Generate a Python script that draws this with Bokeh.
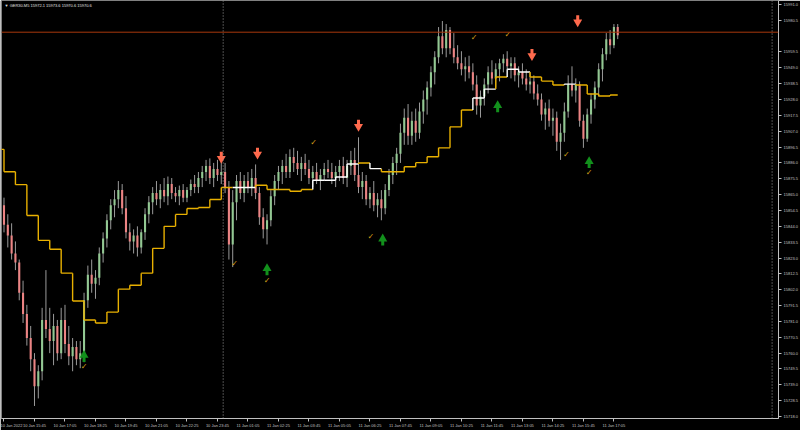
from bokeh.plotting import figure
from bokeh.models import Range1d, FixedTicker, Span, Label, PrintfTickFormatter
from bokeh.core.properties import value
from bokeh.embed import file_html
from bokeh.resources import INLINE

# ---- data (GER30, one candle per 10 minutes, x = M5 bar index from 10 Jan 14:25) ----
opens = [15858, 15845, 15838, 15826, 15820, 15800, 15786, 15770, 15756, 15738,
         15748, 15782, 15776, 15768, 15778, 15760, 15782, 15766, 15758, 15764,
         15756, 15760, 15795, 15812, 15806, 15810, 15826, 15836, 15848, 15858,
         15862, 15868, 15856, 15840, 15834, 15838, 15830, 15840, 15852, 15860,
         15866, 15862, 15868, 15864, 15872, 15866, 15864, 15868, 15863, 15868,
         15872, 15870, 15876, 15880, 15884, 15876, 15882, 15878, 15880, 15870,
         15832, 15860, 15874, 15866, 15874, 15870, 15876, 15866, 15850, 15842,
         15848, 15864, 15874, 15880, 15884, 15880, 15890, 15886, 15882, 15886,
         15882, 15876, 15880, 15874, 15878, 15882, 15880, 15876, 15880, 15884,
         15876, 15884, 15888, 15878, 15870, 15874, 15862, 15866, 15858, 15862,
         15856, 15868, 15878, 15886, 15892, 15906, 15916, 15904, 15914, 15906,
         15920, 15928, 15936, 15946, 15956, 15970, 15962, 15974, 15962, 15956,
         15952, 15948, 15950, 15946, 15938, 15924, 15930, 15938, 15946, 15942,
         15948, 15952, 15955, 15950, 15952, 15944, 15946, 15942, 15938, 15940,
         15932, 15928, 15918, 15922, 15914, 15916, 15900, 15906, 15920, 15938,
         15934, 15938, 15914, 15902, 15918, 15928, 15936, 15948, 15958, 15968,
         15964, 15976]
highs = [15863, 15852, 15846, 15834, 15822, 15808, 15792, 15778, 15760, 15752,
         15790, 15815, 15790, 15786, 15782, 15790, 15792, 15778, 15770, 15768,
         15768, 15800, 15818, 15822, 15815, 15830, 15840, 15852, 15862, 15868,
         15874, 15872, 15864, 15846, 15842, 15844, 15842, 15856, 15864, 15870,
         15874, 15872, 15876, 15877, 15876, 15870, 15871, 15872, 15870, 15875,
         15878, 15880, 15884, 15888, 15889, 15886, 15888, 15890, 15886, 15874,
         15868, 15878, 15880, 15878, 15880, 15882, 15885, 15870, 15856, 15852,
         15868, 15878, 15884, 15888, 15892, 15895, 15896, 15894, 15890, 15892,
         15888, 15884, 15886, 15882, 15886, 15888, 15886, 15884, 15888, 15890,
         15888, 15894, 15896, 15903, 15880, 15878, 15870, 15874, 15866, 15868,
         15872, 15882, 15890, 15896, 15912, 15922, 15925, 15920, 15922, 15926,
         15934, 15940, 15950, 15960, 15976, 15980, 15978, 15976, 15972, 15964,
         15960, 15956, 15957, 15952, 15944, 15934, 15942, 15950, 15954, 15952,
         15955, 15958, 15960, 15956, 15956, 15950, 15952, 15948, 15946, 15944,
         15938, 15932, 15926, 15928, 15922, 15920, 15912, 15926, 15944, 15950,
         15942, 15940, 15918, 15922, 15932, 15940, 15952, 15962, 15972, 15974,
         15978, 15978]
lows = [15840, 15830, 15822, 15815, 15795, 15780, 15765, 15748, 15725, 15730,
        15742, 15770, 15760, 15752, 15755, 15756, 15760, 15752, 15748, 15752,
        15750, 15754, 15790, 15800, 15796, 15805, 15820, 15830, 15842, 15850,
        15856, 15852, 15836, 15828, 15826, 15824, 15826, 15835, 15846, 15852,
        15858, 15856, 15860, 15858, 15862, 15860, 15858, 15860, 15860, 15864,
        15866, 15866, 15870, 15874, 15872, 15870, 15874, 15872, 15866, 15822,
        15817, 15848, 15862, 15860, 15866, 15864, 15862, 15845, 15836, 15832,
        15844, 15858, 15868, 15872, 15876, 15876, 15880, 15878, 15874, 15878,
        15872, 15870, 15872, 15868, 15874, 15876, 15872, 15870, 15874, 15872,
        15870, 15878, 15874, 15866, 15862, 15858, 15856, 15854, 15850, 15848,
        15852, 15864, 15872, 15878, 15886, 15898, 15898, 15898, 15900, 15902,
        15912, 15918, 15930, 15938, 15952, 15958, 15956, 15958, 15952, 15948,
        15944, 15940, 15942, 15934, 15918, 15916, 15924, 15932, 15938, 15936,
        15940, 15946, 15948, 15942, 15940, 15936, 15938, 15934, 15932, 15928,
        15924, 15914, 15908, 15910, 15904, 15894, 15888, 15900, 15916, 15930,
        15926, 15910, 15896, 15900, 15912, 15922, 15930, 15940, 15954, 15958,
        15962, 15968]
closes = [15845, 15838, 15826, 15820, 15800, 15786, 15770, 15756, 15738, 15748,
          15782, 15776, 15768, 15778, 15760, 15782, 15766, 15758, 15764, 15756,
          15760, 15795, 15812, 15806, 15810, 15826, 15836, 15848, 15858, 15862,
          15868, 15856, 15840, 15834, 15838, 15830, 15840, 15852, 15860, 15866,
          15862, 15868, 15864, 15872, 15866, 15864, 15868, 15863, 15868, 15872,
          15870, 15876, 15880, 15884, 15876, 15882, 15878, 15880, 15870, 15832,
          15860, 15874, 15866, 15874, 15870, 15876, 15866, 15850, 15842, 15848,
          15864, 15874, 15880, 15884, 15880, 15890, 15886, 15882, 15886, 15882,
          15876, 15880, 15874, 15878, 15882, 15880, 15876, 15880, 15884, 15876,
          15884, 15888, 15878, 15870, 15874, 15862, 15866, 15858, 15862, 15856,
          15868, 15878, 15886, 15892, 15906, 15916, 15904, 15914, 15906, 15920,
          15928, 15936, 15946, 15956, 15970, 15962, 15974, 15962, 15956, 15952,
          15948, 15950, 15946, 15938, 15924, 15930, 15938, 15946, 15942, 15948,
          15952, 15955, 15950, 15952, 15944, 15946, 15942, 15938, 15940, 15932,
          15928, 15918, 15922, 15914, 15916, 15900, 15906, 15920, 15938, 15934,
          15938, 15914, 15902, 15918, 15928, 15936, 15948, 15958, 15968, 15964,
          15976, 15970.6]
bars = [2 * i for i in range(len(closes))]

# step indicator: one level per 30 minutes (6 M5 bars), first one starts at bar -6
step_levels = [15895.0, 15880.2, 15871.6, 15851.2, 15834.7, 15828.8, 15813.0, 15794.5,
               15782.0, 15780.0, 15787.2, 15802.4, 15805.0, 15813.0, 15829.4, 15844.0,
               15851.9, 15855.8, 15856.5, 15861.8, 15869.7, 15869.7, 15869.7, 15871.2,
               15868.4, 15868.4, 15867.2, 15868.4, 15874.5, 15874.5, 15876.7, 15885.3,
               15886.0, 15882.2, 15880.2, 15880.2, 15883.5, 15886.2, 15890.1, 15896.0,
               15909.9, 15921.1, 15929.0, 15934.9, 15942.9, 15948.1, 15946.2, 15942.9,
               15940.2, 15937.6, 15938.2, 15937.6, 15931.7, 15930.3, 15931.0]
step_white = [0, 0, 0, 0, 0, 0, 0, 0, 0, 0, 0, 0, 0, 0, 0, 0, 0, 0, 0, 0,
              0, 1, 1, 0, 0, 0, 0, 0, 1, 1, 1, 1, 0, 1, 0, 0, 0, 0, 0, 0,
              0, 0, 1, 1, 0, 1, 1, 0, 0, 0, 1, 0, 0, 0, 0]
last_bar = 322

# signals (bar index, price)
down_bars = [114, 133, 186, 277, 301]
down_prices = [15890.0, 15892.7, 15911.2, 15958.0, 15980.4]
up_bars = [42, 138, 198.7, 259, 307]
up_prices = [15757.6, 15815.0, 15834.7, 15923.0, 15886.0]
check_bars = [42, 121, 138, 162.5, 192.5, 246.6, 264.4, 295, 307]
check_prices = [15751.0, 15819.6, 15808.3, 15899.3, 15837.4, 15969.2, 15971.2, 15891.4, 15879.6]

ask_price = 15972.6
bid_price = 15970.6

x_ticks = [0, 16, 32, 48, 64, 80, 96, 112, 128, 144, 160, 176, 192, 208, 224, 240,
           256, 272, 288, 304, 320]
x_labels = ["10 Jan 2022", "10 Jan 15:45", "10 Jan 17:05", "10 Jan 18:25", "10 Jan 19:45",
            "10 Jan 21:05", "10 Jan 22:25", "10 Jan 23:45", "11 Jan 01:05", "11 Jan 02:25",
            "11 Jan 03:45", "11 Jan 05:05", "11 Jan 06:25", "11 Jan 07:45", "11 Jan 09:05",
            "11 Jan 10:25", "11 Jan 11:45", "11 Jan 13:05", "11 Jan 14:25", "11 Jan 15:45",
            "11 Jan 17:05"]
y_ticks = [15718.0, 15728.5, 15739.0, 15749.5, 15760.0, 15770.5, 15781.0, 15791.5,
           15802.0, 15812.5, 15823.0, 15833.5, 15844.0, 15854.5, 15865.0, 15875.5,
           15886.0, 15896.5, 15907.0, 15917.5, 15928.0, 15938.5, 15949.0, 15959.5,
           15980.5, 15991.0]
separators = [115, 403]

# ---- figure ----
AX = "#c0c0c0"
PX = 0.6594  # price units per screen pixel (from the y range below)
p = figure(width=800, height=430, output_backend="svg", toolbar_location=None,
           x_range=Range1d(-1.31, 406.35), y_range=Range1d(15716.7, 15993.6),
           y_axis_location="right", background_fill_color="black",
           border_fill_color="black", min_border_left=1, min_border_right=22,
           min_border_top=0, min_border_bottom=10)
p.outline_line_color = "#808080"
p.grid.visible = False

for ax in (p.xaxis[0], p.yaxis[0]):
    ax.axis_line_color = AX
    ax.major_tick_line_color = AX
    ax.minor_tick_line_color = None
    ax.major_tick_in = 0
    ax.major_tick_out = 3
    ax.major_label_text_color = AX
    ax.major_label_text_font = "Liberation Sans"
    ax.major_label_text_font_size = "4px"
    ax.major_label_standoff = 2

p.xaxis[0].ticker = FixedTicker(ticks=x_ticks)
p.xaxis[0].major_label_overrides = {t: l for t, l in zip(x_ticks, x_labels)}
p.xaxis[0].major_label_text_align = "left"
p.xaxis[0].major_label_standoff = 1
p.yaxis[0].ticker = FixedTicker(ticks=y_ticks)
p.yaxis[0].formatter = PrintfTickFormatter(format="%.1f")

for s in separators:
    p.add_layout(Span(location=s, dimension="height", line_color="#9a9a9a",
                      line_dash="1 2", line_width=1))

# ask line
p.add_layout(Span(location=ask_price, dimension="width", line_color="#a8380c", line_width=1))

# candles
up_col, dn_col = "#93c893", "#ec8484"
body_cols = [up_col if c >= o else dn_col for o, c in zip(opens, closes)]
p.segment(x0=bars, y0=lows, x1=bars, y1=highs, line_color="#9a9a9a", line_width=1)
p.vbar(x=bars, width=1.1, top=[max(o, c) for o, c in zip(opens, closes)],
       bottom=[min(o, c) for o, c in zip(opens, closes)], fill_color=body_cols,
       line_color=None)

# step line
sx0, sy0, sx1, sy1, scol = [], [], [], [], []
for j, lev in enumerate(step_levels):
    start = 6 * (j - 1)
    end = min(start + 6, last_bar)
    col = "#ffffff" if step_white[j] else "#e8b000"
    sx0.append(start); sy0.append(lev); sx1.append(end); sy1.append(lev); scol.append(col)
    if j > 0:
        sx0.append(start); sy0.append(step_levels[j - 1]); sx1.append(start); sy1.append(lev)
        scol.append(col)
p.segment(x0=sx0, y0=sy0, x1=sx1, y1=sy1, line_color=scol, line_width=1.4)

# signals: thick arrows (stem + head)
DN, UP = "#ff6a4d", "#12901c"
p.rect(x=down_bars, y=[v + 2.2 * PX for v in down_prices], width=3, height=6,
       width_units="screen", height_units="screen", fill_color=DN, line_color=None)
p.scatter(x=down_bars, y=[v - 1.6 * PX for v in down_prices], marker="inverted_triangle",
          size=9, fill_color=DN, line_color=None)
p.rect(x=up_bars, y=[v - 2.2 * PX for v in up_prices], width=3, height=6,
       width_units="screen", height_units="screen", fill_color=UP, line_color=None)
p.scatter(x=up_bars, y=[v + 1.6 * PX for v in up_prices], marker="triangle",
          size=9, fill_color=UP, line_color=None)
p.text(x=check_bars, y=check_prices, text=["✓"] * len(check_bars), text_color="#d9a21a",
       text_font=value("DejaVu Sans"), text_font_style="bold", text_font_size="8px",
       text_align="center", text_baseline="middle")

# header and price labels
p.add_layout(Label(x=0.3, y=15990.3, text="▼ GER30.M5  15972.1 15973.6 15970.6 15970.6",
                   text_color="#e0e0e0", text_font="Liberation Sans",
                   text_font_size="4px", text_baseline="middle"))
p.add_layout(Label(x=407.4, y=ask_price + 1.2, text="15972.6", text_color="#ffffff",
                   text_font="Liberation Sans", text_font_size="4px",
                   text_baseline="middle", background_fill_color="#e0561a"))
p.add_layout(Label(x=407.4, y=bid_price - 1.2, text="15970.6", text_color="#000000",
                   text_font="Liberation Sans", text_font_size="4px",
                   text_baseline="middle", background_fill_color="#ffffff"))

html = file_html(p, INLINE)
html = html.replace("<body>", '<body style="margin:0;background:#000000;">', 1)
open("out.html", "w").write(html)
